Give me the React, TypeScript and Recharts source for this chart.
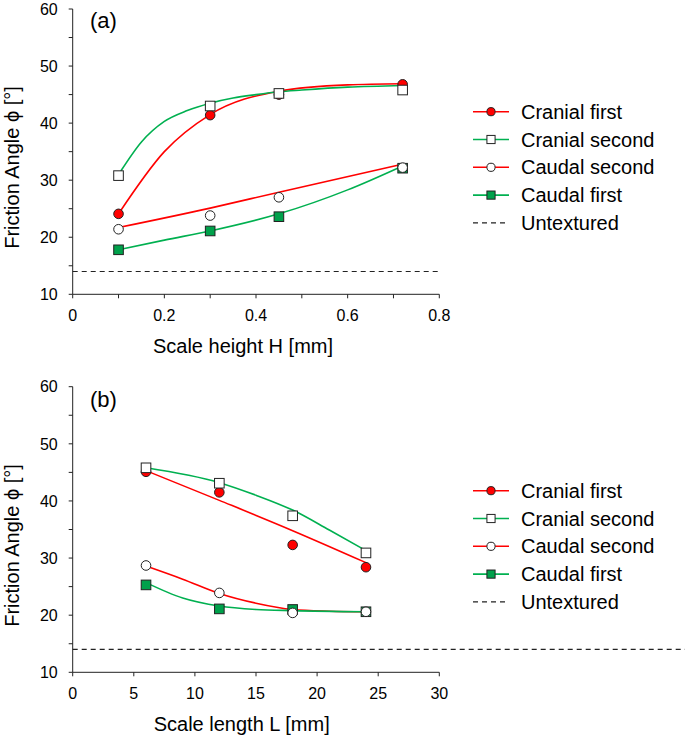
import {
  ComposedChart,
  Line,
  Scatter,
  XAxis,
  YAxis,
  ReferenceLine,
} from 'recharts';

// ---- data ----
const SERIES_NAMES = ['Cranial first', 'Cranial second', 'Caudal second', 'Caudal first'];
const UNTEXTURED = 14;

// (a) scale height H [mm]
const H_MM = [0.1, 0.3, 0.45, 0.72];
const A_CRANIAL_FIRST = [24.1, 41.4, 45.0, 46.8];
const A_CRANIAL_SECOND = [30.8, 43.0, 45.2, 45.8];
const A_CAUDAL_SECOND = [21.4, 23.8, 27.0, 32.2];
const A_CAUDAL_FIRST = [17.8, 21.1, 23.6, 32.1];

// (a) fitted curves
const A_FIT_CF_X = [0.1, 0.2, 0.3, 0.45, 0.6, 0.72];
const A_FIT_CF_Y = [24.1, 35.0, 41.5, 45.6, 46.7, 46.9];
const A_FIT_CS_X = [0.105, 0.15, 0.2, 0.25, 0.3, 0.35, 0.4, 0.45, 0.5, 0.6, 0.72];
const A_FIT_CS_Y = [31.6, 36.7, 40.3, 42.2, 43.5, 44.4, 45.0, 45.5, 45.8, 46.3, 46.6];
const A_FIT_DS_X = [0.1, 0.3, 0.45, 0.72];
const A_FIT_DS_Y = [21.7, 25.1, 27.9, 32.8];
const A_FIT_DF_X = [0.1, 0.2, 0.3, 0.45, 0.6, 0.72];
const A_FIT_DF_Y = [17.8, 19.5, 21.1, 24.1, 28.3, 32.5];

// (b) scale length L [mm]
const L_MM = [6, 12, 18, 24];
const B_CRANIAL_FIRST = [45.1, 41.5, 32.3, 28.4];
const B_CRANIAL_SECOND = [45.8, 43.1, 37.4, 30.9];
const B_CAUDAL_SECOND = [28.7, 23.9, 20.4, 20.6];
const B_CAUDAL_FIRST = [25.3, 21.1, 21.0, 20.6];

// (b) fitted curves
const B_FIT_CF_X = [6, 12, 18, 24];
const B_FIT_CF_Y = [45.3, 40.1, 34.8, 29.2];
const B_FIT_CS_X = [6, 12, 15, 18, 21, 24];
const B_FIT_CS_Y = [45.8, 43.2, 41.0, 38.4, 34.9, 31.3];
const B_FIT_DS_X = [6, 9, 12, 15, 18, 21, 24];
const B_FIT_DS_Y = [28.6, 26.3, 23.8, 22.1, 21.0, 20.7, 20.6];
const B_FIT_DF_X = [6, 9, 12, 15, 18, 24];
const B_FIT_DF_Y = [25.7, 23.0, 21.6, 21.0, 20.8, 20.6];

const Y_TICKS = [10, 15, 20, 25, 30, 35, 40, 45, 50, 55, 60];
const A_X_TICKS = [0, 0.1, 0.2, 0.3, 0.4, 0.5, 0.6, 0.7, 0.8];
const B_X_TICKS = [0, 5, 10, 15, 20, 25, 30];

// ---- styling ----
const FONT = '"Liberation Sans", Arial, Helvetica, sans-serif';
const RED = '#ff0000';
const GREEN = '#00b050';
const GREEN_FILL = '#00a14b';
const INK = '#222';

type Kind = 'dot' | 'openSquare' | 'openDot' | 'square';

const STYLES: { color: string; kind: Kind }[] = [
  { color: RED, kind: 'dot' },
  { color: GREEN, kind: 'openSquare' },
  { color: RED, kind: 'openDot' },
  { color: GREEN, kind: 'square' },
];

function Marker({ cx, cy, kind, size = 1 }: { cx: number; cy: number; kind: Kind; size?: number }) {
  if (cx == null || cy == null) return null;
  const r = 4.8 * size;
  const s = 9.6 * size;
  switch (kind) {
    case 'dot':
      return <circle cx={cx} cy={cy} r={r} fill={RED} stroke={INK} strokeWidth={1} />;
    case 'openDot':
      return <circle cx={cx} cy={cy} r={r} fill="#fff" stroke={INK} strokeWidth={1} />;
    case 'openSquare':
      return <rect x={cx - s / 2} y={cy - s / 2} width={s} height={s} fill="#fff" stroke={INK} strokeWidth={1} />;
    default:
      return <rect x={cx - s / 2} y={cy - s / 2} width={s} height={s} fill={GREEN_FILL} stroke={INK} strokeWidth={1} />;
  }
}

const toPts = (xs: number[], ys: number[]) => xs.map((x, i) => ({ x, y: ys[i] }));

interface PanelProps {
  tag: string;
  height: number;
  marginTop: number;
  marginBottom: number;
  xDomain: [number, number];
  xTicks: number[];
  xFormat: (v: number) => string;
  xTitle: string;
  xTitlePos: [number, number];
  yTitleY: number;
  tagY: number;
  legendY: number;
  points: { x: number; y: number }[][];
  fits: { x: number; y: number }[][];
  refLineEnd?: number;
}

function Panel(p: PanelProps) {
  const legendStep = 27.8;
  return (
    <div style={{ position: 'relative', width: 685, height: p.height }}>
      <ComposedChart
        width={685}
        height={p.height}
        margin={{ top: p.marginTop, right: 245.7, bottom: p.marginBottom, left: 12.7 }}
      >
        <XAxis
          dataKey="x"
          type="number"
          domain={p.xDomain}
          ticks={p.xTicks}
          tickFormatter={p.xFormat}
          interval={0}
          height={30}
          tickSize={4}
          tickMargin={11}
          axisLine={{ stroke: INK }}
          tickLine={{ stroke: INK }}
          tick={{ fill: '#000', fontSize: 16, fontFamily: FONT }}
        />
        <YAxis
          dataKey="y"
          type="number"
          domain={[10, 60]}
          ticks={Y_TICKS}
          tickFormatter={(v: number) => (v % 10 === 0 ? String(v) : '')}
          interval={0}
          width={60}
          tickSize={4}
          tickMargin={11}
          axisLine={{ stroke: INK }}
          tickLine={{ stroke: INK }}
          tick={{ fill: '#000', fontSize: 16, fontFamily: FONT }}
        />
        {p.refLineEnd != null ? (
          <ReferenceLine
            segment={[{ x: 0, y: UNTEXTURED }, { x: p.refLineEnd, y: UNTEXTURED }]}
            ifOverflow="visible"
            stroke={INK}
            strokeWidth={1.2}
            strokeDasharray="5 4"
          />
        ) : (
          <ReferenceLine y={UNTEXTURED} stroke={INK} strokeWidth={1.2} strokeDasharray="5 4" />
        )}
        {p.fits.map((fit, i) => (
          <Line
            key={'fit' + i}
            data={fit}
            dataKey="y"
            type="monotone"
            stroke={STYLES[i].color}
            strokeWidth={1.6}
            dot={false}
            activeDot={false}
            isAnimationActive={false}
          />
        ))}
        {[0, 1, 3, 2].map((i) => (
          <Scatter
            key={'pts' + i}
            data={p.points[i]}
            isAnimationActive={false}
            shape={(props: any) => <Marker cx={props.cx} cy={props.cy} kind={STYLES[i].kind} />}
          />
        ))}
      </ComposedChart>

      <svg
        width={685}
        height={p.height}
        style={{ position: 'absolute', left: 0, top: 0, pointerEvents: 'none', fontFamily: FONT }}
      >
        <text x={90} y={p.tagY} fontSize={22} dominantBaseline="central" fill="#000">
          {p.tag}
        </text>
        <text
          x={0}
          y={0}
          transform={`translate(12, ${p.yTitleY}) rotate(-90)`}
          textAnchor="middle"
          dominantBaseline="central"
          fontSize={20}
          fill="#000"
        >
          Friction Angle ϕ [°]
        </text>
        <text
          x={p.xTitlePos[0]}
          y={p.xTitlePos[1]}
          textAnchor="middle"
          dominantBaseline="central"
          fontSize={20}
          fill="#000"
        >
          {p.xTitle}
        </text>
        {SERIES_NAMES.map((name, i) => {
          const y = p.legendY + i * legendStep;
          return (
            <g key={name}>
              <line x1={473} x2={509} y1={y} y2={y} stroke={STYLES[i].color} strokeWidth={1.6} />
              <Marker cx={491} cy={y} kind={STYLES[i].kind} size={0.85} />
              <text x={521} y={y} fontSize={20} dominantBaseline="central" fill="#000">
                {name}
              </text>
            </g>
          );
        })}
        <line
          x1={473}
          x2={509}
          y1={p.legendY + 4 * legendStep}
          y2={p.legendY + 4 * legendStep}
          stroke={INK}
          strokeWidth={1.2}
          strokeDasharray="5 4"
        />
        <text x={521} y={p.legendY + 4 * legendStep} fontSize={20} dominantBaseline="central" fill="#000">
          Untextured
        </text>
      </svg>
    </div>
  );
}

export default function App() {
  return (
    <div style={{ position: 'absolute', left: 0, top: 0, width: 685, height: 737, background: '#fff' }}>
      <Panel
        tag="(a)"
        height={365}
        marginTop={9}
        marginBottom={40.7}
        xDomain={[0, 0.8]}
        xTicks={A_X_TICKS}
        xFormat={(v: number) => (Math.round(v * 10) % 2 === 0 ? String(v) : '')}
        xTitle="Scale height H [mm]"
        xTitlePos={[243, 346]}
        yTitleY={167.5}
        tagY={20.7}
        legendY={111.7}
        points={[
          toPts(H_MM, A_CRANIAL_FIRST),
          toPts(H_MM, A_CRANIAL_SECOND),
          toPts(H_MM, A_CAUDAL_SECOND),
          toPts(H_MM, A_CAUDAL_FIRST),
        ]}
        fits={[
          toPts(A_FIT_CF_X, A_FIT_CF_Y),
          toPts(A_FIT_CS_X, A_FIT_CS_Y),
          toPts(A_FIT_DS_X, A_FIT_DS_Y),
          toPts(A_FIT_DF_X, A_FIT_DF_Y),
        ]}
      />
      <Panel
        tag="(b)"
        height={372}
        marginTop={21.7}
        marginBottom={34.7}
        xDomain={[0, 30]}
        xTicks={B_X_TICKS}
        xFormat={(v: number) => String(v)}
        xTitle="Scale length L [mm]"
        xTitlePos={[241.7, 359]}
        yTitleY={180.5}
        tagY={34.3}
        legendY={125.7}
        refLineEnd={50.1}
        points={[
          toPts(L_MM, B_CRANIAL_FIRST),
          toPts(L_MM, B_CRANIAL_SECOND),
          toPts(L_MM, B_CAUDAL_SECOND),
          toPts(L_MM, B_CAUDAL_FIRST),
        ]}
        fits={[
          toPts(B_FIT_CF_X, B_FIT_CF_Y),
          toPts(B_FIT_CS_X, B_FIT_CS_Y),
          toPts(B_FIT_DS_X, B_FIT_DS_Y),
          toPts(B_FIT_DF_X, B_FIT_DF_Y),
        ]}
      />
    </div>
  );
}
